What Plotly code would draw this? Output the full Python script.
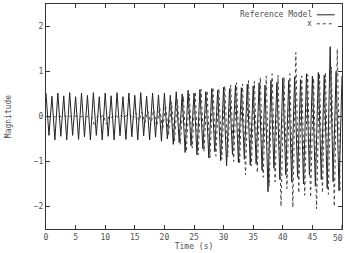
import plotly.graph_objects as go

# Reference model: extrema (sample) times and values
ref_t = [0, 0.5, 1, 1.5, 2, 2.5, 3, 3.5, 4, 4.5, 5, 5.5, 6, 6.5, 7, 7.5, 8, 8.5, 9, 9.5,
         10, 10.5, 11, 11.5, 12, 12.5, 13, 13.5, 14, 14.5, 15, 15.5, 16, 16.5, 17, 17.5, 18, 18.5, 19, 19.5,
         20, 20.5, 21, 21.5, 22, 22.5, 23, 23.5, 24, 24.5, 25, 25.5, 26, 26.5, 27, 27.5, 28, 28.5, 29, 29.5,
         30, 30.5, 31, 31.5, 32, 32.5, 33, 33.5, 34, 34.5, 35, 35.5, 36, 36.5, 37, 37.5, 38, 38.5, 39, 39.5,
         40, 40.5, 41, 41.5, 42, 42.5, 43, 43.5, 44, 44.5, 45, 45.5, 46, 46.5, 47, 47.5, 48, 48.5, 49, 49.5, 50]
ref_v = [0.52, -0.42, 0.45, -0.52, 0.52, -0.44, 0.46, -0.52, 0.53, -0.42,
         0.44, -0.51, 0.52, -0.45, 0.47, -0.52, 0.53, -0.42, 0.44, -0.52,
         0.52, -0.44, 0.46, -0.52, 0.53, -0.43, 0.44, -0.51, 0.52, -0.45,
         0.47, -0.52, 0.53, -0.43, 0.45, -0.52, 0.52, -0.46, 0.48, -0.55,
         0.52, -0.50, 0.47, -0.62, 0.55, -0.58, 0.50, -0.80, 0.58, -0.65,
         0.52, -0.85, 0.60, -0.72, 0.55, -0.92, 0.62, -0.78, 0.58, -0.98,
         0.65, -1.10, 0.62, -0.85, 0.70, -1.02, 0.64, -0.95, 0.72, -1.08,
         0.68, -1.05, 0.75, -1.20, 0.70, -1.67, 0.80, -1.15, 0.76, -1.40,
         0.85, -1.30, 0.80, -1.45, 0.88, -1.35, 0.82, -1.50, 0.95, -1.30,
         0.90, -1.55, 0.98, -1.40, 0.92, -1.60, 1.55, -1.45, 1.00, -1.65, 0.90]

# x response: sample times and values
x_t = [0.2, 0.7, 1.2, 1.7, 2.2, 2.7, 3.2, 3.7, 4.2, 4.7, 5.2, 5.7, 6.2, 6.7, 7.2, 7.7, 8.2, 8.7, 9.2, 9.7,
       10.2, 10.7, 11.2, 11.7, 12.2, 12.7, 13.2, 13.7, 14.2, 14.7, 15.2, 15.7, 16.2, 16.7, 17.2, 17.7, 18.2, 18.7, 19.2, 19.7,
       20.2, 20.7, 21.2, 21.7, 22.2, 22.7, 23.2, 23.7, 24.2, 24.7, 25.2, 25.7, 26.2, 26.7, 27.2, 27.7, 28.2, 28.7, 29.2, 29.7,
       30.2, 30.7, 31.2, 31.7, 32.2, 32.7, 33.2, 33.7, 34.2, 34.7, 35.2, 35.7, 36.2, 36.7, 37.2, 37.7, 38.2, 38.7, 39.2, 39.7,
       40.2, 40.7, 41.2, 41.7, 42.2, 42.7, 43.2, 43.7, 44.2, 44.7, 45.2, 45.7, 46.2, 46.7, 47.2, 47.7, 48.2, 48.7, 49.2, 49.7]
x_v = [0.00, -0.01, 0.01, -0.02, 0.01, -0.01, 0.02, -0.02, 0.01, -0.01,
       0.02, -0.02, 0.01, -0.02, 0.02, -0.01, -0.20, 0.02, -0.02, 0.03,
       -0.17, 0.02, -0.03, 0.03, -0.02, 0.03, -0.03, 0.04, 0.05, -0.06,
       0.08, -0.10, 0.10, -0.14, 0.12, -0.18, 0.15, -0.22, 0.20, -0.30,
       0.25, -0.42, 0.32, -0.55, 0.38, -0.62, 0.45, -0.78, 0.50, -0.70,
       0.55, -0.85, 0.60, -0.78, 0.58, -0.92, 0.65, -0.88, 0.62, -0.95,
       0.68, -0.90, 0.70, -1.00, 0.75, -1.05, 0.72, -1.30, 0.80, -1.10,
       0.78, -1.25, 0.87, -1.35, 0.90, -1.55, 0.95, -1.45, 0.92, -2.00,
       0.88, -1.60, 0.95, -2.02, 1.42, -1.70, 0.90, -1.75, 0.93, -1.80,
       0.85, -2.05, 0.95, -1.70, 0.98, -1.73, 1.10, -2.00, 1.50, -1.69]

x_ticks = [0, 5, 10, 15, 20, 25, 30, 35, 40, 45, 50]
y_ticks = [-2, -1, 0, 1, 2]

FONT = "DejaVu Sans Mono"
TXT = "#505050"

fig = go.Figure()
fig.add_trace(go.Scatter(x=ref_t, y=ref_v, mode="lines", name="Reference Model",
                         line=dict(color="#222222", width=1)))
fig.add_trace(go.Scatter(x=x_t, y=x_v, mode="lines", name="x",
                         line=dict(color="#444444", width=1, dash="dot")))

axis_common = dict(showline=True, linecolor="#333333", linewidth=1, mirror="ticks",
                   ticks="inside", ticklen=4, tickcolor="#333333", showgrid=False,
                   zeroline=False, automargin=False,
                   tickfont=dict(family=FONT, size=8, color=TXT))
fig.update_xaxes(range=[0, 50], tickvals=x_ticks[:-1], title=dict(text="Time (s)", standoff=0,
                 font=dict(family=FONT, size=8, color=TXT)), **axis_common)
fig.update_yaxes(range=[-2.5, 2.5], tickvals=y_ticks, title=dict(text="Magnitude", standoff=20,
                 font=dict(family=FONT, size=8, color=TXT)), **axis_common)

# last x tick label, kept inside the page edge
fig.add_annotation(xref="x", yref="paper", x=x_ticks[-1], y=0, yshift=-3, xshift=3,
                   text=str(x_ticks[-1]), showarrow=False, xanchor="right", yanchor="top",
                   font=dict(family=FONT, size=8, color=TXT))
fig.add_shape(type="line", xref="x", yref="paper", x0=x_ticks[-1], x1=x_ticks[-1], y0=0, y1=0.018,
              line=dict(color="#333333", width=1))

# gnuplot-style key (text right, line sample to the right of it)
fig.add_annotation(xref="paper", yref="paper", x=0.905, y=0.952, text="Reference Model",
                   showarrow=False, xanchor="right", yanchor="middle",
                   font=dict(family=FONT, size=8, color=TXT))
fig.add_annotation(xref="paper", yref="paper", x=0.905, y=0.912, text="x",
                   showarrow=False, xanchor="right", yanchor="middle",
                   font=dict(family=FONT, size=8, color=TXT))
fig.add_shape(type="line", xref="paper", yref="paper", x0=0.915, x1=0.975, y0=0.952, y1=0.952,
              line=dict(color="#222222", width=1))
fig.add_shape(type="line", xref="paper", yref="paper", x0=0.915, x1=0.975, y0=0.912, y1=0.912,
              line=dict(color="#444444", width=1, dash="dot"))

fig.update_layout(width=345, height=253, margin=dict(l=46, r=3, t=4, b=24),
                  paper_bgcolor="white", plot_bgcolor="white", showlegend=False,
                  font=dict(family=FONT, size=8, color=TXT))
fig.write_html("out.html")
